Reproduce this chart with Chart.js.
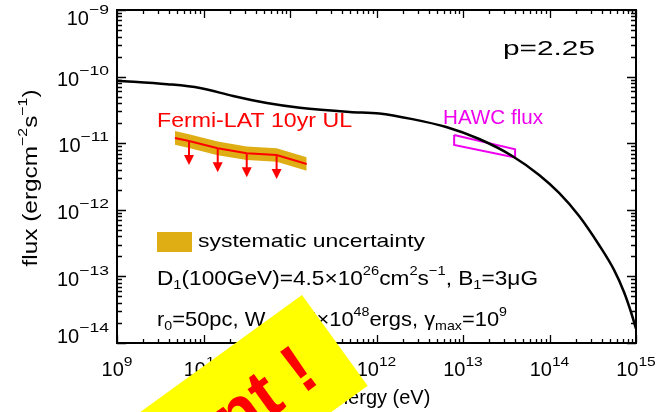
<!DOCTYPE html>
<html><head><meta charset="utf-8">
<style>html,body{margin:0;padding:0;background:#fff;}canvas{display:block;}</style>
<script src="https://cdn.jsdelivr.net/npm/chart.js@4.4.1/dist/chart.umd.min.js"></script>
</head><body>
<div style="width:663px;height:412px"><canvas id="c" width="663" height="412"></canvas></div>
<script>
// ---- data (energy in eV, flux in erg cm^-2 s^-1) ----
const modelEnergy = [1e9, 3.8e9, 9.1e9, 2.2e10, 5.4e10, 1.3e11, 4.9e11, 1.08e12, 2.6e12, 6.4e12, 1.54e13, 3.71e13, 7.59e13, 1.29e14, 2.2e14, 3.74e14, 5.57e14, 7.26e14, 8.75e14, 1e15];
const modelFlux   = [8.7e-11, 7.7e-11, 6.75e-11, 5.1e-11, 4.0e-11, 3.4e-11, 2.95e-11, 2.8e-11, 2.3e-11, 1.75e-11, 1.156e-11, 6.43e-12, 3.33e-12, 1.79e-12, 8.07e-13, 2.96e-13, 1.25e-13, 5.83e-14, 2.92e-14, 1.64e-14];

const fermiEnergy = [4.67e9, 6.8e9, 1.46e10, 3.16e10, 7.0e10, 1.56e11];
const fermiUL     = [1.2e-11, 1.08e-11, 8.4e-12, 7.05e-12, 6.65e-12, 4.88e-12];
const fermiSysHi  = [1.52e-11, 1.36e-11, 1.06e-11, 8.9e-12, 8.4e-12, 6.15e-12];
const fermiSysLo  = [9.5e-12, 8.5e-12, 6.6e-12, 5.6e-12, 5.25e-12, 3.85e-12];
const arrowEnergy = [6.8e9, 1.46e10, 3.16e10, 7.0e10];
const arrowFlux   = [1.08e-11, 8.4e-12, 7.05e-12, 6.65e-12];

const hawcEnergy = [7.9e12, 4.0e13, 4.0e13, 7.9e12, 7.9e12];
const hawcFlux   = [1.33e-11, 8.1e-12, 6.1e-12, 9.4e-12, 1.33e-11];

const xTickExponents = [9, 10, 11, 12, 13, 14, 15];
const yTickExponents = [-14, -13, -12, -11, -10, -9];
const minorMultipliers = [2, 3, 4, 5, 6, 7, 8, 9];

const xTitle = 'Energy (eV)';
const yTitle = [['flux (ergcm',''],['\u22122','sup'],['s',''],['\u22121','sup'],[')','']];
const fermiLabel = 'Fermi-LAT 10yr UL';
const hawcLabel = 'HAWC flux';
const indexLabel = 'p=2.25';
const legendLabel = 'systematic uncertainty';
const paramLine1 = [['D',''],['1','sub'],['(100GeV)=4.5\u00d710',''],['26','sup'],['cm',''],['2','sup'],['s',''],['\u22121','sup'],[', B',''],['1','sub'],['=3\u03bcG','']];
const paramLine2 = [['r',''],['0','sub'],['=50pc, W',''],['e','sub'],['=1.5\u00d710',''],['48','sup'],['ergs, \u03b3',''],['max','sub'],['=10',''],['9','sup']];
const stickerText = 'Important !';

const FONT = '"Liberation Sans", Arial, Helvetica, sans-serif';
const BAND = '#dfae14';
const MAGENTA = '#ee00ee';

const pts = (xs, ys) => xs.map((x, i) => ({x, y: ys[i]}));

function drawRich(ctx, segs, x, y, size, opt) {
  opt = opt || {};
  ctx.save();
  let natural = 0;
  const parts = segs.map(s => {
    const mode = s[1] || '';
    const fs = mode ? size * 0.65 : size;
    ctx.font = (opt.weight || 'normal') + ' ' + fs + 'px ' + (opt.family || FONT);
    const st = mode === 'sup' ? (opt.supStretch || 1) : 1;
    const w = ctx.measureText(s[0]).width * st;
    natural += w;
    return {t: s[0], mode, fs, w, st};
  });
  const sx = opt.width ? opt.width / natural : 1;
  const total = natural * sx;
  let x0 = x;
  if (opt.align === 'center') x0 = x - total / 2;
  else if (opt.align === 'right') x0 = x - total;
  ctx.translate(x0, y);
  ctx.scale(sx, 1);
  ctx.fillStyle = opt.color || '#000';
  ctx.textBaseline = 'alphabetic';
  ctx.textAlign = 'left';
  let cx = 0;
  for (const p of parts) {
    ctx.font = (opt.weight || 'normal') + ' ' + p.fs + 'px ' + (opt.family || FONT);
    const dy = p.mode === 'sup' ? -size * (opt.supRaise || 0.5) : p.mode === 'sub' ? size * 0.2 : 0;
    ctx.save();
    ctx.translate(cx, dy);
    ctx.scale(p.st, 1);
    ctx.fillText(p.t, 0, 0);
    ctx.restore();
    cx += p.w;
  }
  ctx.restore();
}

const decor = {
  id: 'decor',
  afterDraw(chart) {
    const ctx = chart.ctx;
    const xs = chart.scales.x, ys = chart.scales.y;
    const a = chart.chartArea;
    ctx.save();
    // arrows for upper limits
    ctx.strokeStyle = '#ff0000'; ctx.fillStyle = '#ff0000'; ctx.lineWidth = 2;
    arrowEnergy.forEach((e, i) => {
      const px = xs.getPixelForValue(e), py = ys.getPixelForValue(arrowFlux[i]);
      ctx.beginPath(); ctx.moveTo(px, py); ctx.lineTo(px, py + 16); ctx.stroke();
      ctx.beginPath(); ctx.moveTo(px - 5, py + 14); ctx.lineTo(px + 5, py + 14); ctx.lineTo(px, py + 24); ctx.closePath(); ctx.fill();
    });
    // frame
    ctx.strokeStyle = '#000'; ctx.lineWidth = 2;
    ctx.strokeRect(a.left, a.top, a.right - a.left, a.bottom - a.top);
    // ticks
    ctx.lineWidth = 1.3;
    ctx.beginPath();
    for (let k = 0; k < xTickExponents.length; k++) {
      const e = xTickExponents[k];
      const mults = k < xTickExponents.length - 1 ? [1].concat(minorMultipliers) : [1];
      mults.forEach(m => {
        const px = Math.round(xs.getPixelForValue(m * Math.pow(10, e))) + 0.5;
        const len = m === 1 ? 8 : 4;
        ctx.moveTo(px, a.bottom); ctx.lineTo(px, a.bottom - len);
        ctx.moveTo(px, a.top); ctx.lineTo(px, a.top + len);
      });
    }
    for (let k = 0; k < yTickExponents.length; k++) {
      const e = yTickExponents[k];
      const mults = k < yTickExponents.length - 1 ? [1].concat(minorMultipliers) : [1];
      mults.forEach(m => {
        const py = Math.round(ys.getPixelForValue(m * Math.pow(10, e))) + 0.5;
        const len = m === 1 ? 9 : 5;
        ctx.moveTo(a.left, py); ctx.lineTo(a.left + len, py);
        ctx.moveTo(a.right, py); ctx.lineTo(a.right - len, py);
      });
    }
    ctx.stroke();
    // tick labels
    xTickExponents.forEach(e => {
      const px = xs.getPixelForValue(Math.pow(10, e));
      drawRich(ctx, [['10',''],[String(e),'sup']], px, 376, 20, {align:'center', supStretch:1.2, supRaise:0.5});
    });
    yTickExponents.forEach(e => {
      const py = ys.getPixelForValue(Math.pow(10, e));
      const base = Math.min(343, Math.max(25, py + 9.2));
      drawRich(ctx, [['10',''],['\u2212' + String(-e),'sup']], 109, base, 20, {align:'right', supStretch:1.35, supRaise:0.55});
    });
    // axis titles
    drawRich(ctx, [[xTitle,'']], 377, 404, 20, {align:'center'});
    ctx.save();
    ctx.translate(36.5, 178); ctx.rotate(-Math.PI / 2);
    drawRich(ctx, yTitle, 0, 0, 20, {align:'center', width:177, supRaise:0.5});
    ctx.restore();
    // annotations
    drawRich(ctx, [[fermiLabel,'']], 157, 127, 19.5, {width:195, color:'#ff0000'});
    drawRich(ctx, [[hawcLabel,'']], 443, 124, 19.5, {width:100, color:MAGENTA});
    drawRich(ctx, [[indexLabel,'']], 503, 55, 21, {width:92});
    ctx.fillStyle = BAND; ctx.fillRect(157, 232, 35, 20);
    drawRich(ctx, [[legendLabel,'']], 198, 247, 19, {width:227});
    drawRich(ctx, paramLine1, 157, 285, 21, {width:381, supRaise:0.5});
    drawRich(ctx, paramLine2, 157, 326, 21, {width:350, supRaise:0.5});
    // sticker
    const ang = Math.atan2(117, 161.7);
    const ux = -Math.cos(ang), uy = Math.sin(ang);
    const vx = Math.sin(ang), vy = Math.cos(ang);
    const T = [302, 295];
    ctx.fillStyle = '#ffff00';
    ctx.beginPath();
    ctx.moveTo(T[0], T[1]);
    ctx.lineTo(T[0] + 112 * vx, T[1] + 112 * vy);
    ctx.lineTo(T[0] + 112 * vx + 500 * ux, T[1] + 112 * vy + 500 * uy);
    ctx.lineTo(T[0] + 500 * ux, T[1] + 500 * uy);
    ctx.closePath(); ctx.fill();
    ctx.save();
    ctx.translate(322, 381); ctx.rotate(-ang);
    ctx.fillStyle = '#ff0000';
    ctx.font = 'bold 70px ' + FONT;
    ctx.textAlign = 'right'; ctx.textBaseline = 'alphabetic';
    ctx.fillText(stickerText, 0, 0);
    ctx.restore();
    ctx.restore();
  }
};

new Chart(document.getElementById('c'), {
  type: 'scatter',
  data: {
    datasets: [
      {label:'model', data: pts(modelEnergy, modelFlux), showLine:true, borderColor:'#000', borderWidth:2.5, pointRadius:0, cubicInterpolationMode:'monotone', fill:false},
      {label:'HAWC', data: pts(hawcEnergy, hawcFlux), showLine:true, borderColor:MAGENTA, borderWidth:2, pointRadius:0, tension:0, fill:false},
      {label:'Fermi UL', data: pts(fermiEnergy, fermiUL), showLine:true, borderColor:'#ff0000', borderWidth:2, pointRadius:0, tension:0, fill:false},
      {label:'sys hi', data: pts(fermiEnergy, fermiSysHi), showLine:true, borderWidth:0, borderColor:'rgba(0,0,0,0)', backgroundColor:BAND, pointRadius:0, tension:0, fill:'+1'},
      {label:'sys lo', data: pts(fermiEnergy, fermiSysLo), showLine:true, borderWidth:0, borderColor:'rgba(0,0,0,0)', pointRadius:0, tension:0, fill:false}
    ]
  },
  options: {
    responsive: false,
    animation: false,
    devicePixelRatio: 1,
    layout: {padding: {left:117, right:27, top:10, bottom:69}},
    plugins: {legend:{display:false}, tooltip:{enabled:false}},
    scales: {
      x: {type:'logarithmic', min:1e9, max:1e15, display:false},
      y: {type:'logarithmic', min:1e-14, max:1e-9, display:false}
    }
  },
  plugins: [decor]
});
</script>
</body></html>
